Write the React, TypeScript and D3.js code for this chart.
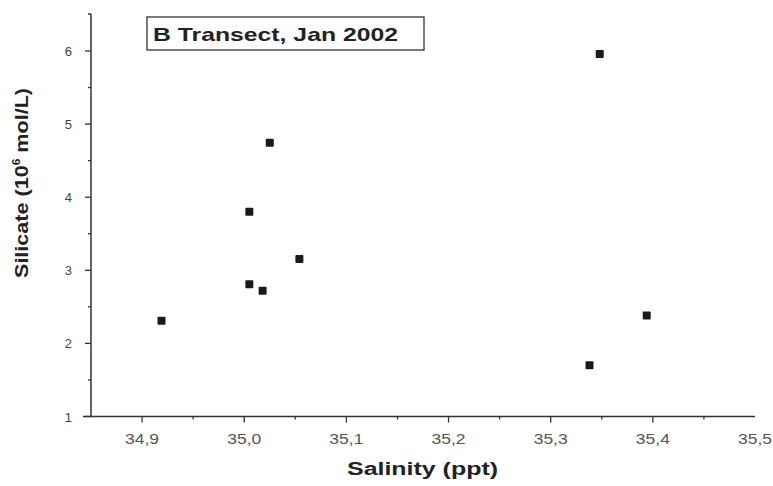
import React from "react";
import * as d3 from "d3";

const salinity = [34.919, 35.005, 35.018, 35.005, 35.025, 35.054, 35.348, 35.338, 35.394];
const silicate = [2.31, 2.81, 2.72, 3.8, 4.745, 3.155, 5.96, 1.7, 2.38];
const xTicks = [34.9, 35.0, 35.1, 35.2, 35.3, 35.4, 35.5];
const xTickLabels = ["34,9", "35,0", "35,1", "35,2", "35,3", "35,4", "35,5"];
const yTicks = [1, 2, 3, 4, 5, 6];
const xMinor = [34.95, 35.05, 35.15, 35.25, 35.35, 35.45];
const yMinor = [1.5, 2.5, 3.5, 4.5, 5.5];

const W = 773;
const H = 486;
const left = 91;
const right = 755;
const top = 14;
const bottom = 416.5;

export default function App() {
  const x = d3.scaleLinear().domain([34.85, 35.5]).range([left, right]);
  const y = d3.scaleLinear().domain([1, 6.5]).range([bottom, bottom - 5.5 * 73.1]);
  const axisColor = "#333";
  const font = "'Liberation Sans', Arial, sans-serif";
  return (
    <svg
      width={W}
      height={H}
      style={{ position: "absolute", left: 0, top: 0, background: "#fff" }}
      fontFamily={font}
    >
      <line x1={left} x2={left} y1={top} y2={bottom} stroke={axisColor} strokeWidth={1.5} />
      <line x1={left - 8} x2={right} y1={bottom} y2={bottom} stroke={axisColor} strokeWidth={1.5} />
      <line x1={left - 3} x2={left} y1={top} y2={top} stroke={axisColor} strokeWidth={1.5} />
      {yTicks.map((t) => (
        <g key={"y" + t}>
          <line x1={left - 6} x2={left} y1={y(t)} y2={y(t)} stroke={axisColor} strokeWidth={1.3} />
          <text x={72} y={y(t) + 5} textAnchor="end" fontSize={13} fill="#444">
            {t}
          </text>
        </g>
      ))}
      {yMinor.map((t) => (
        <line key={"ym" + t} x1={left - 3} x2={left} y1={y(t)} y2={y(t)} stroke={axisColor} strokeWidth={1.3} />
      ))}
      {xTicks.map((t, i) => (
        <g key={"x" + t}>
          {x(t) < right - 1 && (
            <line x1={x(t)} x2={x(t)} y1={bottom} y2={bottom + 6} stroke={axisColor} strokeWidth={1.3} />
          )}
          <text
            x={x(t) - 17}
            y={bottom + 27}
            fontSize={14}
            fill="#555"
            textLength={34}
            lengthAdjust="spacingAndGlyphs"
          >
            {xTickLabels[i]}
          </text>
        </g>
      ))}
      {xMinor.map((t) => (
        <line key={"xm" + t} x1={x(t)} x2={x(t)} y1={bottom} y2={bottom + 3} stroke={axisColor} strokeWidth={1.3} />
      ))}
      {salinity.map((s, i) => (
        <rect key={"p" + i} x={x(s) - 4} y={y(silicate[i]) - 4} width={8} height={8} fill="#1a1a1a" rx={1} />
      ))}
      <rect x={147} y={17} width={277} height={33} fill="#fff" stroke="#333" strokeWidth={1.3} />
      <text
        x={153}
        y={41}
        fontSize={19}
        fontWeight="bold"
        fill="#222"
        textLength={245}
        lengthAdjust="spacingAndGlyphs"
      >
        B Transect, Jan 2002
      </text>
      <text
        x={347}
        y={475}
        fontSize={18}
        fontWeight="bold"
        fill="#222"
        textLength={151}
        lengthAdjust="spacingAndGlyphs"
      >
        Salinity (ppt)
      </text>
      <text
        transform={`translate(28,278) rotate(-90)`}
        fontSize={18}
        fontWeight="bold"
        fill="#222"
        textLength={190}
        lengthAdjust="spacingAndGlyphs"
      >
        Silicate (10
        <tspan fontSize={10} dy={-8}>6</tspan>
        <tspan dy={8}> mol/L)</tspan>
      </text>
    </svg>
  );
}
